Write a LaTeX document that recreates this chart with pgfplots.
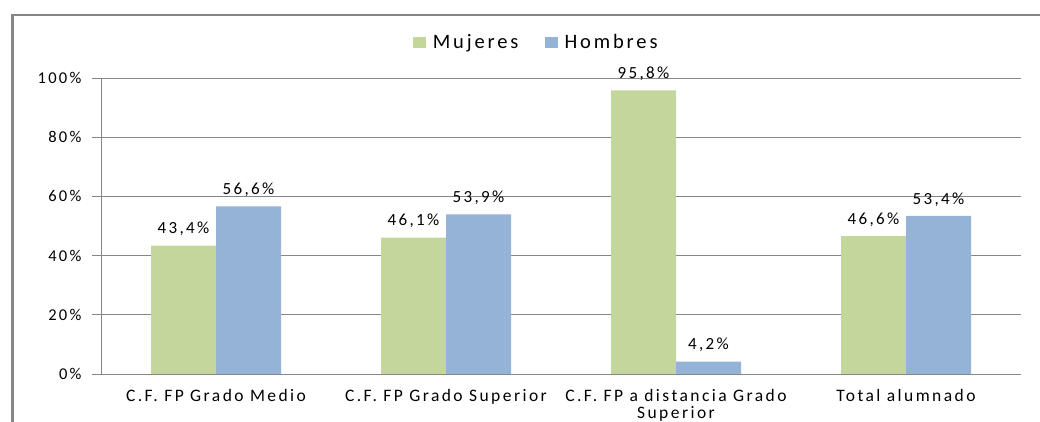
\documentclass[border=0pt]{standalone}
\usepackage{pgfplots}
\pgfplotsset{compat=1.18}
\usepackage{fontspec}
\setmainfont{Carlito}[LetterSpace=14]
\definecolor{muj}{HTML}{C3D69B}
\definecolor{hom}{HTML}{95B3D7}
\definecolor{gridc}{HTML}{868686}
\begin{document}
\fontsize{16pt}{18pt}\selectfont
\begin{tikzpicture}
\path[use as bounding box] (0,0) rectangle (1040pt,422pt);
\draw[gridc, line width=3pt] (12pt,0) -- (12pt,407pt);
\draw[gridc, line width=1.2pt] (10.5pt,407pt) -- (1040pt,407pt);
\begin{axis}[
  at={(101pt,48pt)}, anchor=south west,
  scale only axis, width=920pt, height=296pt,
  ybar=0pt, bar width=65pt,
  xmin=-0.5, xmax=3.5, ymin=0, ymax=100,
  axis x line*=bottom, axis y line*=left,
  axis line style={gridc, line width=0.8pt},
  xtick={0,1,2,3},
  xticklabels={C.F. FP Grado Medio, C.F. FP Grado Superior, {C.F. FP a distancia Grado\\Superior}, Total alumnado},
  xticklabel style={align=center, text depth=0pt, yshift=-1pt, font=\fontsize{17.5pt}{17pt}\selectfont},
  xtick style={draw=none},
  minor xtick={-0.5,0.5,1.5,2.5,3.5},
  minor tick length=6pt,
  minor tick style={gridc, line width=0.8pt},
  major tick length=9pt,
  tick align=outside,
  ytick={0,20,40,60,80,100},
  yticklabels={0\%,20\%,40\%,60\%,80\%,100\%},
  ytick style={gridc, line width=0.8pt},
  yticklabel style={xshift=-5pt, font=\fontsize{16.5pt}{18pt}\selectfont},
  ymajorgrids, grid style={gridc, line width=0.8pt},
  nodes near coords={\pgfmathprintnumber[assume math mode=true, use comma, fixed, fixed zerofill, precision=1]{\pgfplotspointmeta}\%},
  nodes near coords style={font=\fontsize{17pt}{18pt}\selectfont, yshift=4pt},
  legend style={at={(0.473,1.118)}, anchor=center, draw=none, legend columns=2,
    font=\fontsize{20.5pt}{21pt}\selectfont,
    /tikz/every odd column/.append style={column sep=5pt},
    /tikz/every even column/.append style={column sep=24pt}},
  legend image code/.code={\fill[#1] (0pt,-5pt) rectangle (13pt,6pt);},
  clip=false,
]
\addplot[fill=muj, draw=none] coordinates {(0,43.4) (1,46.1) (2,95.8) (3,46.6)};
\addplot[fill=hom, draw=none] coordinates {(0,56.6) (1,53.9) (2,4.2) (3,53.4)};
\legend{Mujeres, Hombres}
\end{axis}
\end{tikzpicture}
\end{document}
